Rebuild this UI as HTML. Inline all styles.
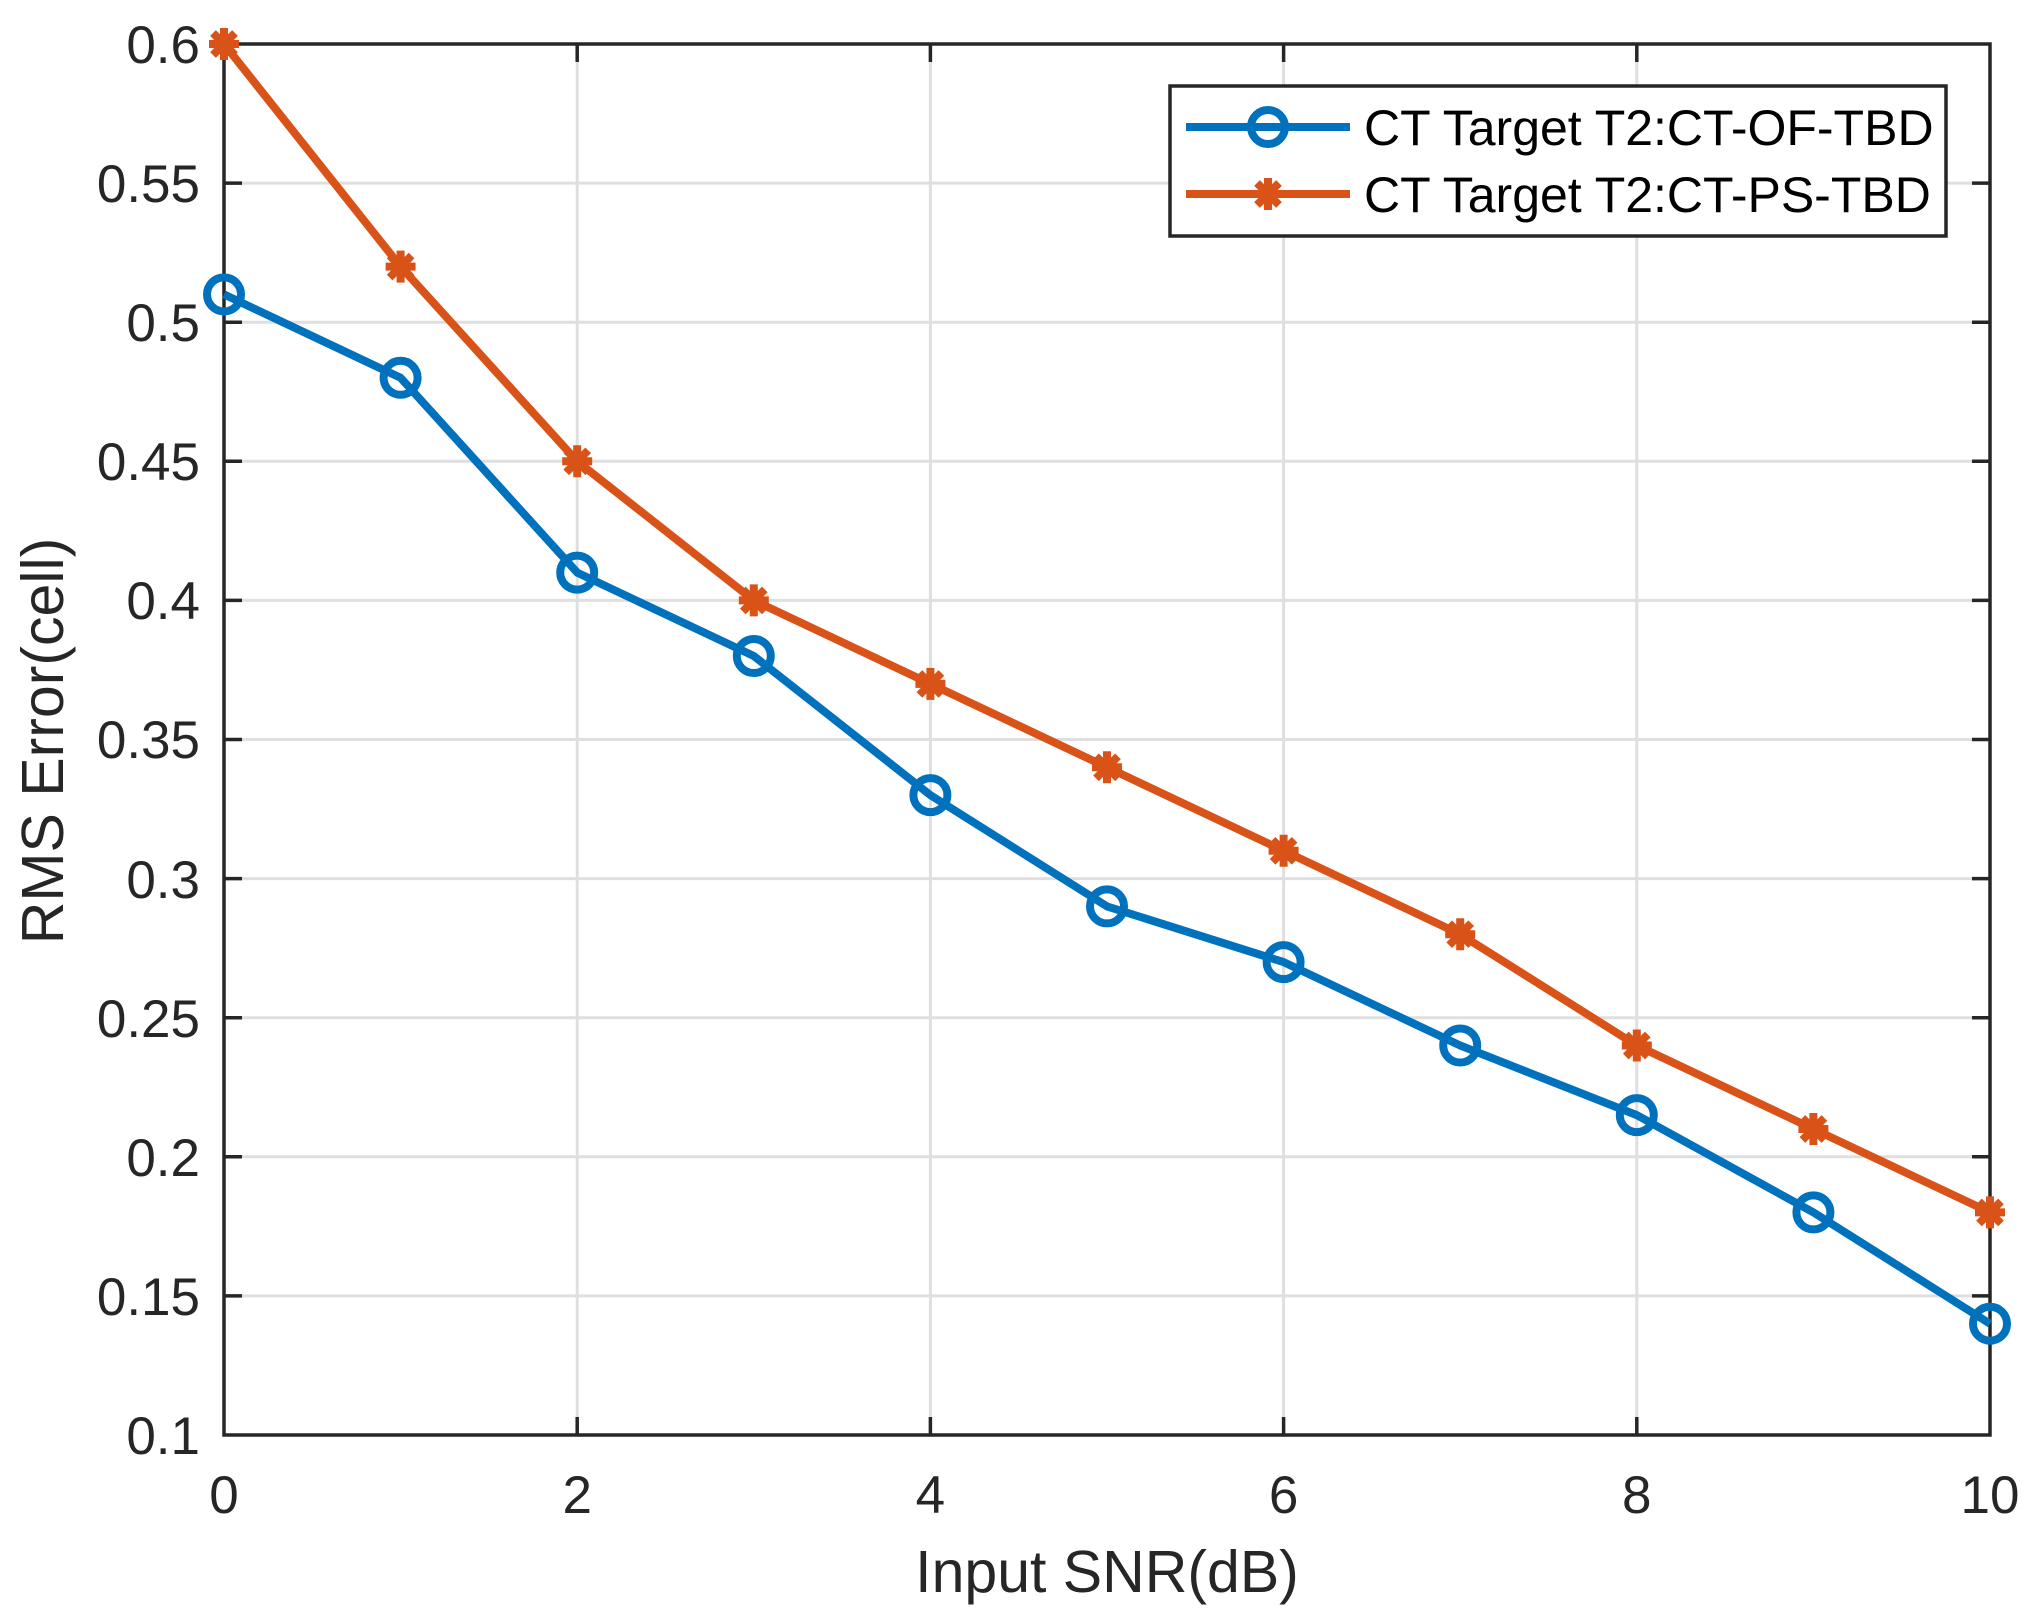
<!DOCTYPE html>
<html><head><meta charset="utf-8"><style>html,body{margin:0;padding:0;background:#fff}svg{display:block}</style></head>
<body>
<svg width="2032" height="1621" viewBox="0 0 2032 1621" xmlns="http://www.w3.org/2000/svg" font-family="Liberation Sans, Arial, sans-serif">
<defs>
<g id="star" stroke="#D95319" stroke-width="8" stroke-linecap="butt">
<line x1="-15" y1="0" x2="15" y2="0"/><line x1="0" y1="-16" x2="0" y2="16"/>
<line x1="-11" y1="-11" x2="11" y2="11"/><line x1="-11" y1="11" x2="11" y2="-11"/>
</g>
<circle id="circ" r="17" fill="none" stroke="#0072BD" stroke-width="8"/>
</defs>
<rect x="224" y="44" width="1766" height="1391" fill="#fff"/>
<g stroke="#dfdfdf" stroke-width="3">
<line x1="577.2" y1="44" x2="577.2" y2="1435"/><line x1="930.4" y1="44" x2="930.4" y2="1435"/><line x1="1283.6" y1="44" x2="1283.6" y2="1435"/><line x1="1636.8" y1="44" x2="1636.8" y2="1435"/>
<line x1="224" y1="183.1" x2="1990" y2="183.1"/><line x1="224" y1="322.2" x2="1990" y2="322.2"/><line x1="224" y1="461.3" x2="1990" y2="461.3"/><line x1="224" y1="600.4" x2="1990" y2="600.4"/><line x1="224" y1="739.5" x2="1990" y2="739.5"/><line x1="224" y1="878.6" x2="1990" y2="878.6"/><line x1="224" y1="1017.7" x2="1990" y2="1017.7"/><line x1="224" y1="1156.8" x2="1990" y2="1156.8"/><line x1="224" y1="1295.9" x2="1990" y2="1295.9"/>
</g>
<g stroke="#262626" stroke-width="3.5">
<path d="M577.2 1435v-18M930.4 1435v-18M1283.6 1435v-18M1636.8 1435v-18
M577.2 44v18M930.4 44v18M1283.6 44v18M1636.8 44v18
M224 183.1h18M224 322.2h18M224 461.3h18M224 600.4h18M224 739.5h18M224 878.6h18M224 1017.7h18M224 1156.8h18M224 1295.9h18
M1990 183.1h-18M1990 322.2h-18M1990 461.3h-18M1990 600.4h-18M1990 739.5h-18M1990 878.6h-18M1990 1017.7h-18M1990 1156.8h-18M1990 1295.9h-18"/>
<rect x="224" y="44" width="1766" height="1391" fill="none"/>
</g>
<g fill="#262626" font-size="53" text-anchor="end">
<text x="200" y="63">0.6</text><text x="200" y="202">0.55</text><text x="200" y="341">0.5</text><text x="200" y="480">0.45</text><text x="200" y="619">0.4</text><text x="200" y="758">0.35</text><text x="200" y="898">0.3</text><text x="200" y="1037">0.25</text><text x="200" y="1176">0.2</text><text x="200" y="1315">0.15</text><text x="200" y="1454">0.1</text>
</g>
<g fill="#262626" font-size="53" text-anchor="middle">
<text x="224" y="1513">0</text><text x="577.2" y="1513">2</text><text x="930.4" y="1513">4</text><text x="1283.6" y="1513">6</text><text x="1636.8" y="1513">8</text><text x="1990" y="1513">10</text>
<text x="1107" y="1592" font-size="59">Input SNR(dB)</text>
<text transform="translate(63,741) rotate(-90)" font-size="59">RMS Error(cell)</text>
</g>
<polyline fill="none" stroke="#0072BD" stroke-width="8" stroke-linejoin="round" points="224,294.4 400.6,377.8 577.2,572.6 753.8,656 930.4,795.1 1107,906.4 1283.6,962.1 1460.2,1045.5 1636.8,1115.1 1813.4,1212.4 1990,1323.7"/>
<polyline fill="none" stroke="#D95319" stroke-width="8" stroke-linejoin="round" points="224,44 400.6,266.6 577.2,461.3 753.8,600.4 930.4,683.9 1107,767.3 1283.6,850.8 1460.2,934.2 1636.8,1045.5 1813.4,1129 1990,1212.4"/>
<use href="#circ" x="224" y="294.4"/><use href="#circ" x="400.6" y="377.8"/><use href="#circ" x="577.2" y="572.6"/><use href="#circ" x="753.8" y="656"/><use href="#circ" x="930.4" y="795.1"/><use href="#circ" x="1107" y="906.4"/><use href="#circ" x="1283.6" y="962.1"/><use href="#circ" x="1460.2" y="1045.5"/><use href="#circ" x="1636.8" y="1115.1"/><use href="#circ" x="1813.4" y="1212.4"/><use href="#circ" x="1990" y="1323.7"/>
<use href="#star" x="224" y="44"/><use href="#star" x="400.6" y="266.6"/><use href="#star" x="577.2" y="461.3"/><use href="#star" x="753.8" y="600.4"/><use href="#star" x="930.4" y="683.9"/><use href="#star" x="1107" y="767.3"/><use href="#star" x="1283.6" y="850.8"/><use href="#star" x="1460.2" y="934.2"/><use href="#star" x="1636.8" y="1045.5"/><use href="#star" x="1813.4" y="1129"/><use href="#star" x="1990" y="1212.4"/>
<rect x="1170" y="86" width="776" height="150" fill="#fff" stroke="#262626" stroke-width="3.5"/>
<line x1="1186" y1="127" x2="1350" y2="127" stroke="#0072BD" stroke-width="8"/>
<use href="#circ" x="1268" y="127"/>
<line x1="1186" y1="194" x2="1350" y2="194" stroke="#D95319" stroke-width="8"/>
<use href="#star" x="1268" y="194"/>
<g font-size="50" fill="#000">
<text x="1364" y="145">CT Target T2:CT-OF-TBD</text>
<text x="1364" y="212">CT Target T2:CT-PS-TBD</text>
</g>
</svg>
</body></html>
